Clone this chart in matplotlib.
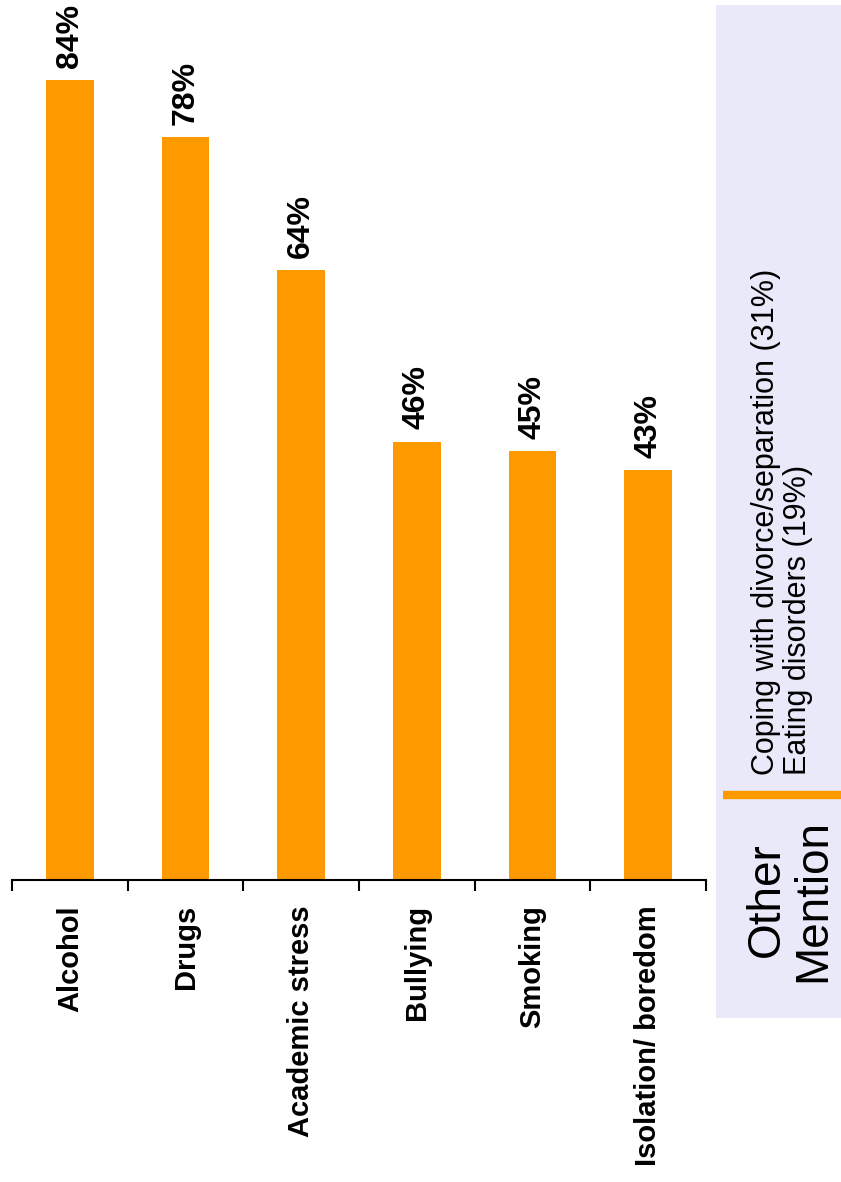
import matplotlib.pyplot as plt
from matplotlib.patches import Rectangle
from matplotlib.lines import Line2D

categories = ["Alcohol", "Drugs", "Academic stress", "Bullying", "Smoking", "Isolation/ boredom"]
values = [84, 78, 64, 46, 45, 43]
other_mentions = ["Coping with divorce/separation (31%)", "Eating disorders (19%)"]

plt.rcParams['font.family'] = ['Liberation Sans', 'DejaVu Sans']

W, H = 841, 1182
fig = plt.figure(figsize=(W / 100, H / 100), dpi=100)

# bar area (pixel box converted to figure fractions)
left, right, base = 12, 706, 880
ax = fig.add_axes([left / W, (H - base) / H, (right - left) / W, base / H])

x = list(range(len(categories)))
ax.bar(x, values, width=0.41, color='#FF9900', zorder=2)
for xi, v in zip(x, values):
    ax.annotate(f"{v}%", (xi, v), xytext=(0, 9), textcoords='offset points',
                rotation=90, ha='center', va='bottom', fontsize=23, fontweight='bold')

ax.set_xlim(-0.5, len(categories) - 0.5)
ax.set_ylim(0, 92.4)
for s in ['left', 'right', 'top']:
    ax.spines[s].set_visible(False)
ax.spines['bottom'].set_linewidth(1.5)
ax.set_yticks([])
ax.set_xticks(x, categories, rotation=90, fontsize=21, fontweight='bold', va='top')
ax.set_xticks([i - 0.5 for i in range(len(categories) + 1)], minor=True)
ax.tick_params(axis='x', which='major', length=0, pad=18)
ax.tick_params(axis='x', which='minor', length=8, width=1.5, direction='out')

# side panel with the remaining answers
box_l, box_t, box_b = 716, 5, 1018
fig.patches.append(Rectangle((box_l / W, (H - box_b) / H), (W - box_l) / W, (box_b - box_t) / H,
                             transform=fig.transFigure, facecolor='#E9E9FA', edgecolor='none', zorder=0))
sep_y = (H - 795) / H
fig.lines.append(Line2D([723 / W, 1.0], [sep_y, sep_y], transform=fig.transFigure,
                        color='#FF9900', linewidth=6, solid_capstyle='butt'))

fig.text(790 / W, (H - 900) / H, "Other\nMention", rotation=90, ha='center', va='center',
         fontsize=33, linespacing=1.05)
fig.text(782 / W, (H - 775) / H, "\n".join(other_mentions), rotation=90, ha='center', va='bottom',
         fontsize=22, linespacing=1.05, multialignment='left')

fig.savefig('out.png', dpi=100)
